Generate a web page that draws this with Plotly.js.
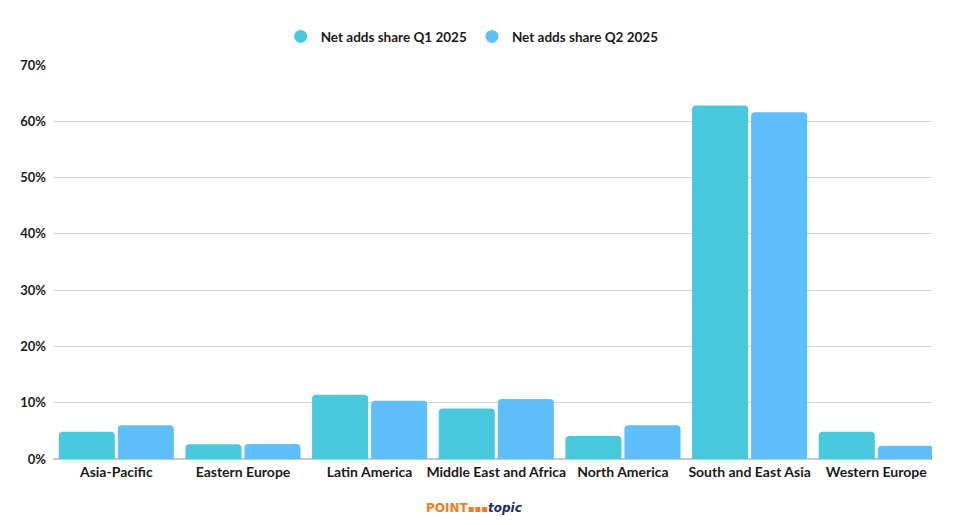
<!DOCTYPE html>
<html>
<head>
<meta charset="utf-8">
<script src="https://cdn.plot.ly/plotly-3.0.1.min.js"></script>
<style>html,body{margin:0;padding:0;background:#fff;}#chart{width:955px;height:525px;}</style>
</head>
<body>
<div id="chart"></div>
<script>
const categories = ["Asia-Pacific", "Eastern Europe", "Latin America", "Middle East and Africa", "North America", "South and East Asia", "Western Europe"];
const q1Values = [4.85, 2.6, 11.4, 8.95, 4.1, 62.8, 4.85];
const q2Values = [6.0, 2.65, 10.35, 10.65, 6.0, 61.6, 2.35];
const seriesNames = ["Net adds share Q1 2025", "Net adds share Q2 2025"];
const tickVals = [0, 10, 20, 30, 40, 50, 60, 70];
const tickText = ["0%", "10%", "20%", "30%", "40%", "50%", "60%", "70%"];

const c1 = "#48C9DE", c2 = "#5EBFFC";
const fam = "Lato, 'Open Sans', sans-serif";
const yfont = {family: fam, size: 13, color: "#1a1a1a", weight: 700};
const xfont = {family: fam, size: 14, color: "#1a1a1a", weight: 700};

const traces = [
  {type: "bar", x: categories, y: q1Values, name: seriesNames[0], marker: {color: c1, cornerradius: 4}, showlegend: false},
  {type: "bar", x: categories, y: q2Values, name: seriesNames[1], marker: {color: c2, cornerradius: 4}, showlegend: false},
  {type: "scatter", mode: "markers", x: [null], y: [null], name: seriesNames[0], marker: {color: c1, size: 13, symbol: "circle"}},
  {type: "scatter", mode: "markers", x: [null], y: [null], name: seriesNames[1], marker: {color: c2, size: 13, symbol: "circle"}}
];

const layout = {
  width: 955, height: 525,
  margin: {l: 53, r: 23, t: 65, b: 66},
  paper_bgcolor: "#fff", plot_bgcolor: "#fff",
  font: yfont,
  barmode: "group", bargap: 0.068, bargroupgap: 0.05,
  showlegend: true,
  legend: {orientation: "h", x: 0.259, xanchor: "left", y: 1.072, yanchor: "middle",
           font: {family: fam, size: 13.5, color: "#1a1a1a", weight: 700}, itemwidth: 30, traceorder: "normal"},
  xaxis: {type: "category", range: [-0.5, 6.44], showgrid: false, zeroline: false, showline: false, ticks: "",
          tickfont: xfont, ticklabelstandoff: 3, automargin: false, fixedrange: true},
  yaxis: {range: [0, 70], tickvals: tickVals, ticktext: tickText, showgrid: true, gridcolor: "#d4d4d4", gridwidth: 1,
          zeroline: true, zerolinecolor: "#c8c8c8", zerolinewidth: 1.5, showline: false, ticks: "", ticklabelstandoff: 6,
          tickfont: yfont, automargin: false, fixedrange: true},
  annotations: [
    {xref: "paper", yref: "paper", x: 0.479, y: -0.125, xanchor: "center", yanchor: "middle", showarrow: false,
     text: "<span style='color:#F07C1E'><b>POINT</b></span><span style='color:#F07C1E;font-size:10px'><b>▪▪▪</b></span><span style='color:#1B2A6B'><b><i>topic</i></b></span>",
     font: {family: "'DejaVu Sans', sans-serif", size: 12}}
  ]
};

Plotly.newPlot("chart", traces, layout, {displayModeBar: false, staticPlot: true});
</script>
</body>
</html>
